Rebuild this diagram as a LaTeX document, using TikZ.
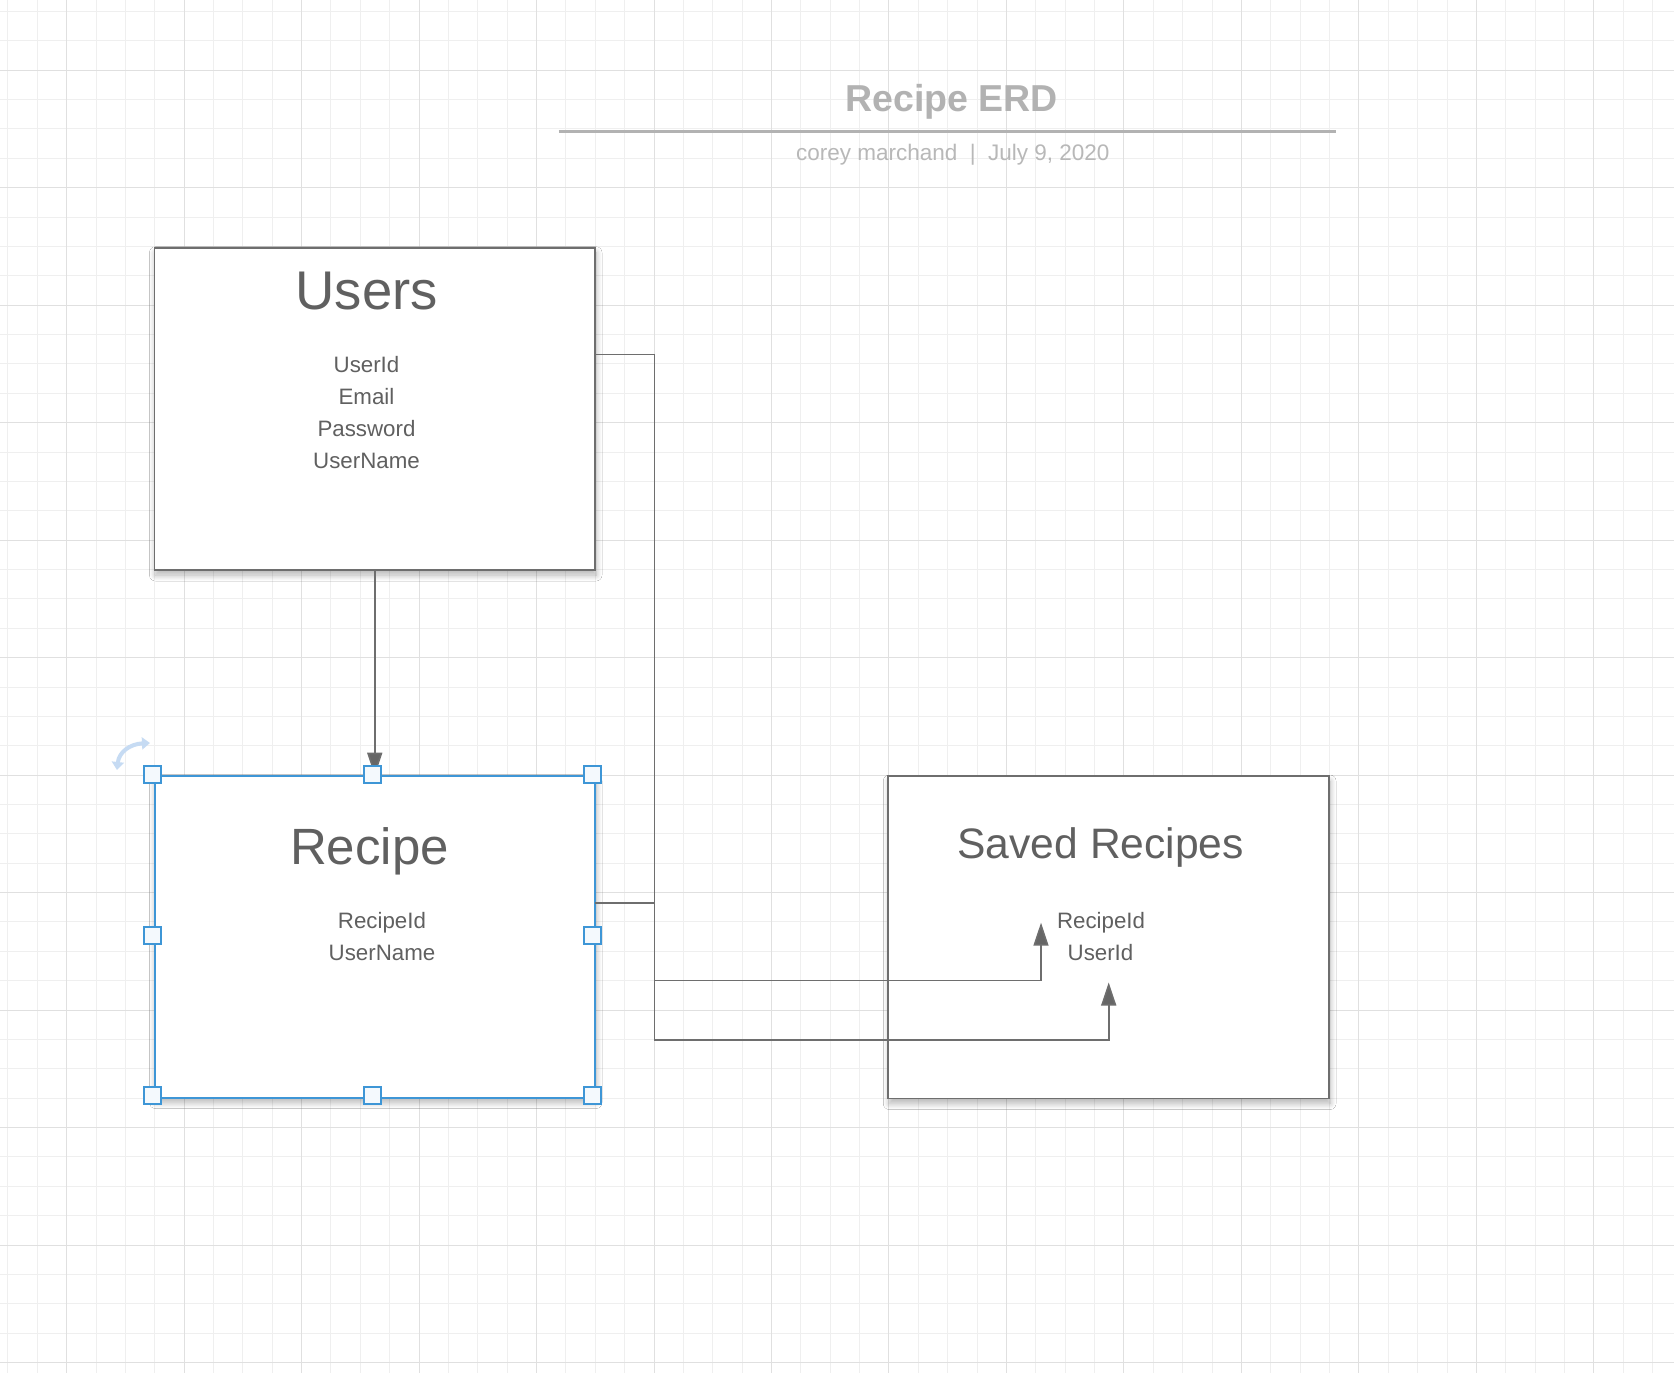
\documentclass[tikz,border=0pt]{standalone}
\usepackage{fontspec}
\setmainfont{Liberation Sans}
\usetikzlibrary{arrows.meta,calc,shadows.blur}
\definecolor{gridminor}{HTML}{EFEFEF}
\definecolor{gridmajor}{HTML}{E0E0E0}
\definecolor{ink}{HTML}{606060}
\definecolor{edge}{HTML}{6E6E6E}
\definecolor{arrowink}{HTML}{666666}
\definecolor{selblue}{HTML}{3E96D6}
\definecolor{handlefill}{HTML}{F4F9FD}
\definecolor{rotblue}{HTML}{C6DBF3}
\definecolor{titlegray}{HTML}{B2B2B2}
\definecolor{subgray}{HTML}{B8B8B8}
\begin{document}
\begin{tikzpicture}[x=1pt,y=-1pt,
  minorline/.style={gridminor, line width=0.9pt},
  majorline/.style={gridmajor, line width=1pt},
  entity/.style={draw=edge, line width=1.8pt, fill=white, anchor=north west,
    inner sep=0pt, outer sep=0pt,
    blur shadow={shadow xshift=1pt, shadow yshift=-5pt, shadow blur radius=6pt, shadow opacity=30, shadow blur steps=12}},
  entitytitle/.style={text=ink, anchor=base, inner sep=0pt},
  field/.style={text=ink, anchor=base, inner sep=0pt, font=\fontsize{22.3}{26}\selectfont},
  conn/.style={draw=edge, line width=1.6pt, -{Triangle[width=15pt,length=23pt,fill=arrowink]}},
  handlebox/.style={draw=selblue, line width=2pt, fill=handlefill, minimum size=17pt, inner sep=0pt},
]
% background and frame
\fill[white] (0,0) rectangle (1674,1373);
\useasboundingbox (0,0) rectangle (1674,1373);
% grid
\foreach \i in {-2,...,54} {\pgfmathtruncatemacro\gm{mod(\i+100,4)}\ifnum\gm>0 \pgfmathsetmacro\gx{66.6+29.37*\i}\draw[minorline] (\gx,0) -- (\gx,1373);\fi}
\foreach \i in {-2,...,44} {\pgfmathtruncatemacro\gm{mod(\i+100,4)}\ifnum\gm>0 \pgfmathsetmacro\gy{70.2+29.37*\i}\draw[minorline] (0,\gy) -- (1674,\gy);\fi}
\foreach \i in {0,...,13} {\pgfmathsetmacro\gx{66.6+117.48*\i}\draw[majorline] (\gx,0) -- (\gx,1373);}
\foreach \i in {0,...,11} {\pgfmathsetmacro\gy{70.2+117.48*\i}\draw[majorline] (0,\gy) -- (1674,\gy);}

% title block
\node[text=titlegray, anchor=base, inner sep=0pt, font=\bfseries\fontsize{37.5}{40}\selectfont] (title) at (951.5,111.7) {Recipe ERD};
\coordinate (ruleL) at (558.8,131);
\coordinate (ruleR) at (1336,131);
\draw[titlegray, line width=3pt] (ruleL) -- (ruleR);
\node[text=subgray, anchor=base, inner sep=0pt, font=\fontsize{22.5}{26}\selectfont] (subtitle) at (952.8,160) {corey marchand~~|~~July 9, 2020};

% entities
\node[entity, minimum width=440.5pt, minimum height=322.3pt] (users) at (154.5,247.7) {};
\node[entity, draw=selblue, line width=2pt, minimum width=440.5pt, minimum height=321.8pt] (recipe) at (154.5,775.7) {};
\node[entity, minimum width=440.7pt, minimum height=322.5pt] (saved) at (888.3,776) {};

% entity texts
\node[entitytitle, font=\fontsize{54.5}{60}\selectfont] (usersT) at (366.7,309) {Users};
\node[field] (u1) at (366.5,372.3) {UserId};
\node[field] (u2) at (366.5,404.3) {Email};
\node[field] (u3) at (366.5,436.2) {Password};
\node[field] (u4) at (366.5,468.2) {UserName};

\node[entitytitle, font=\fontsize{51}{56}\selectfont] (recipeT) at (369.5,864.3) {Recipe};
\node[field] (r1) at (382,928.3) {RecipeId};
\node[field] (r2) at (382,960.2) {UserName};

\node[entitytitle, font=\fontsize{42.6}{48}\selectfont] (savedT) at (1100.7,858.3) {Saved Recipes};
\node[field] (s1) at (1101,928.3) {RecipeId};
\node[field] (s2) at (1100.5,960.2) {UserId};

% connector ends
\coordinate (uOut) at ($(users.north east)+(0,106.6)$);
\coordinate (rOut) at ($(recipe.north east)+(0,127)$);
\coordinate (sRid) at ($(saved.north west)+(152.7,146.7)$);
\coordinate (sUid) at ($(saved.north west)+(220.4,206.5)$);

% connectors
\draw[conn] (users.south) -- (recipe.north);
\draw[conn] (uOut) -- (654.3,354.3) -- (654.3,1040) -- (1108.7,1040) -- (sUid);
\draw[conn] (rOut) -- (654.3,902.7) -- (654.3,980.3) -- (1041,980.3) -- (sRid);

% selection handles
\node[handlebox] (h1) at (152.7,774) {};
\node[handlebox] (h2) at (372.6,774) {};
\node[handlebox] (h3) at (592.5,774) {};
\node[handlebox] (h4) at (152.7,935.2) {};
\node[handlebox] (h5) at (592.5,935.2) {};
\node[handlebox] (h6) at (152.7,1095.4) {};
\node[handlebox] (h7) at (372.6,1095.4) {};
\node[handlebox] (h8) at (592.5,1095.4) {};

% rotation handle
\draw[rotblue, line width=4pt, {Triangle[width=12pt,length=8pt]}-{Triangle[width=12pt,length=8pt]}]
  (117,770) .. controls (119,752) and (130,744) .. (150,743);
\end{tikzpicture}
\end{document}
